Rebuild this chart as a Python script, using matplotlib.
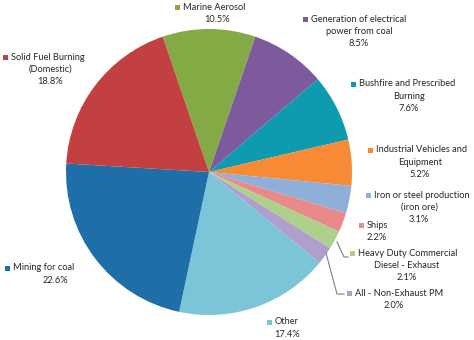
import matplotlib
matplotlib.use('Agg')
import matplotlib.pyplot as plt
from matplotlib.patches import Rectangle
from matplotlib.lines import Line2D

# Data, clockwise from Marine Aerosol
sources = ['Marine Aerosol', 'Generation of electrical power from coal',
           'Bushfire and Prescribed Burning', 'Industrial Vehicles and Equipment',
           'Iron or steel production (iron ore)', 'Ships',
           'Heavy Duty Commercial Diesel - Exhaust', 'All - Non-Exhaust PM',
           'Other', 'Mining for coal', 'Solid Fuel Burning (Domestic)']
shares = [10.5, 8.5, 7.6, 5.2, 3.1, 2.2, 2.1, 2.0, 17.4, 22.6, 18.8]
colors = ['#83AA45', '#7D5A9B', '#0E9AAF', '#F68A35', '#8FAFD8', '#E8898A',
          '#ADD08A', '#AE9FCD', '#7CC5D9', '#1E6FA8', '#C2403F']

# label text lines (first line carries the colour marker)
label_lines = [['Marine Aerosol'],
               ['Generation of electrical', 'power from coal'],
               ['Bushfire and Prescribed', 'Burning'],
               ['Industrial Vehicles and', 'Equipment'],
               ['Iron or steel production', '(iron ore)'],
               ['Ships'],
               ['Heavy Duty Commercial', 'Diesel - Exhaust'],
               ['All - Non-Exhaust PM'],
               ['Other'],
               ['Mining for coal'],
               ['Solid Fuel Burning', '(Domestic)']]

# layout: marker x, first line y, centre x of following lines (pixels from top-left)
label_pos = [(175, 7, 217), (303, 19, 359), (351, 84, 409), (368, 150, 420),
             (366, 195, 419), (359, 225, 377), (350, 253, 407), (347, 293, 394),
             (267, 322, 287), (5, 268, 55), (3, 57, 50)]

W, H = 474, 340
fig = plt.figure(figsize=(W / 100, H / 100), dpi=100)
cx, cy, r = 209, 172, 143
ax = fig.add_axes([(cx - r) / W, 1 - (cy + r) / H, 2 * r / W, 2 * r / H])
ax.pie(shares, colors=colors, startangle=108.9, counterclock=False,
       radius=1, wedgeprops=dict(linewidth=0))
ax.set_xlim(-1, 1)
ax.set_ylim(-1, 1)
ax.axis('off')

plt.rcParams['font.family'] = ['Lato', 'DejaVu Sans']
fs = 6.7
tc = '#262626'
lh = 12.3


def fx(x):
    return x / W


def fy(y):
    return 1 - y / H


for lines, share, col, (mx, y0, ccx) in zip(label_lines, shares, colors, label_pos):
    fig.patches.append(Rectangle((fx(mx), fy(y0 + 2.5)), 5 / W, 5 / H,
                                 transform=fig.transFigure, color=col, lw=0))
    fig.text(fx(mx + 8), fy(y0), lines[0], ha='left', va='center',
             fontsize=fs, color=tc)
    rest = lines[1:] + ['%.1f%%' % share]
    for i, t in enumerate(rest):
        fig.text(fx(ccx), fy(y0 + lh * (i + 1)), t, ha='center', va='center',
                 fontsize=fs, color=tc)

# leader lines for the two small slices
for pts in ([(337, 242), (344, 257), (348, 257)],
            [(326, 253), (337, 294), (344, 294)]):
    xs = [fx(p[0]) for p in pts]
    ys = [fy(p[1]) for p in pts]
    fig.lines.append(Line2D(xs, ys, transform=fig.transFigure,
                            color='#7F7F7F', lw=0.8))

fig.savefig('out.png', dpi=100, facecolor='white')
